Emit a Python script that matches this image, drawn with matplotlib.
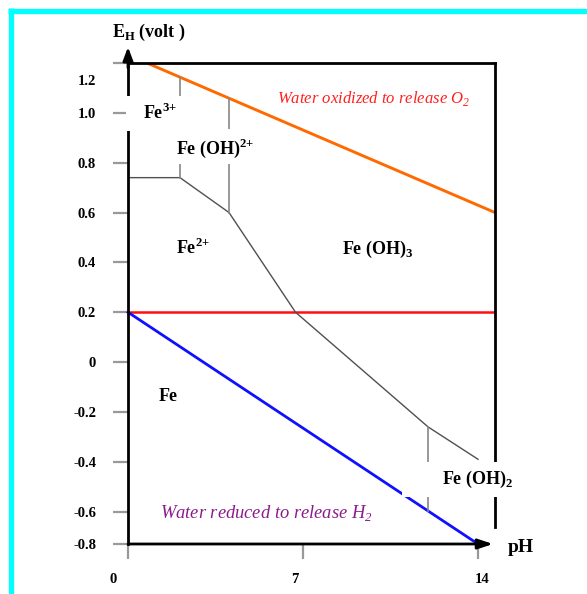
import numpy as np
import matplotlib
matplotlib.use("Agg")
import matplotlib.pyplot as plt
from matplotlib.lines import Line2D
from matplotlib.patches import Rectangle
from matplotlib.transforms import ScaledTranslation

# Eh-pH sketch for iron
ph_ticks = [0, 7, 14]
ph_tick_labels = ["0", "7", "14"]
e_tick_labels = ["1.2", "1.0", "0.8", "0.6", "0.4", "0.2", "0", "-0.2", "-0.4", "-0.6", "-0.8"]
# the sketch squeezes the bottom of the axis: "-0.8" sits at the axis end
e_ticks = [1.2, 1.0, 0.8, 0.6, 0.4, 0.2, 0.0, -0.2, -0.4, -0.6, -0.73]

# water lines
o2_ph = [0.76, 14.68]
o2_e = [1.2, 0.6]
h2_ph = [0, 14]
h2_e = [0.2, -0.73]
red_ph = [0, 14.68]
red_e = [0.2, 0.2]

# species boundary (grey)
bound_ph = [0, 2.08, 4.04, 6.7, 12.0, 14.0]
bound_e = [0.74, 0.74, 0.6, 0.2, -0.26, -0.39]
vert_ph = [2.08, 4.04, 12.0]

SERIF = ["Liberation Serif", "DejaVu Serif"]
plt.rcParams["font.family"] = SERIF

fig = plt.figure(figsize=(5.87, 5.94), dpi=100)
W, H = 587, 594
ax = fig.add_axes([128 / W, 1 - 544 / H, (495 - 128) / W, (544 - 63) / H])
ax.set_xlim(0, 14.68)
ax.set_ylim(-0.728, 1.196)

# cyan frame
fig.add_artist(Line2D([10.5 / W, 10.5 / W], [1 - 8 / H, 0], transform=fig.transFigure,
                      color="#00FFFF", lw=3.8, solid_capstyle="butt"))
fig.add_artist(Line2D([8 / W, 1], [1 - 10.5 / H, 1 - 10.5 / H], transform=fig.transFigure,
                      color="#00FFFF", lw=3.8, solid_capstyle="butt"))

# lines
ax.plot(o2_ph, o2_e, color="#FF6A00", lw=2.1, solid_capstyle="butt")
ax.plot(red_ph, red_e, color="#FF1010", lw=1.8)
ax.plot(h2_ph, h2_e, color="#1010FF", lw=2.0, clip_on=False)
ax.plot(bound_ph, bound_e, color="#505050", lw=1.0)
for i, p in enumerate(vert_ph):
    if i < 2:
        top = np.interp(p, o2_ph, o2_e)
        bot = np.interp(p, bound_ph, bound_e)
    else:
        top = np.interp(p, bound_ph, bound_e)
        bot = np.interp(p, h2_ph, h2_e)
    ax.plot([p, p], [bot, top], color="#888888", lw=1.2)

# spines
for s in ["right", "bottom"]:
    ax.spines[s].set_visible(False)
for s in ["left", "top"]:
    ax.spines[s].set_linewidth(2.0)
ax.plot([1, 1], [1, 17 / 481], transform=ax.transAxes, color="k", lw=2.0, clip_on=False)
ax.annotate("", xy=(1.0 - 2 / 367, 0), xytext=(0, 0), xycoords="axes fraction",
            arrowprops=dict(arrowstyle="-|>,head_length=0.9,head_width=0.3", color="k", lw=2.0,
                            shrinkA=0, shrinkB=0), zorder=2.6)
ax.annotate("", xy=(0, 1 + 16 / 481), xytext=(0, 0.99), xycoords="axes fraction",
            arrowprops=dict(arrowstyle="-|>,head_length=0.8,head_width=0.3", color="k", lw=2.0,
                            shrinkA=0, shrinkB=0), zorder=2.6)

# white label boxes of the sketch, they cut the lines behind them
for x0, x1, y0, y1 in [(-0.08, 2.28, 0.928, 1.068),
                       (1.68, 5.36, 0.796, 0.936),
                       (10.96, 15.48, -0.54, -0.40)]:
    ax.add_patch(Rectangle((x0, y0), x1 - x0, y1 - y0, fc="white", ec="none",
                           zorder=3.5, clip_on=False))

# ticks
ax.set_xticks(ph_ticks)
ax.set_xticklabels(ph_tick_labels)
ax.set_yticks(e_ticks)
ax.set_yticklabels(e_tick_labels)
ax.tick_params(axis="both", direction="out", length=11, width=1.6, color="#999999",
               labelsize=10.5)
ax.tick_params(axis="y", pad=12)
ax.tick_params(axis="x", pad=10)
for lab in ax.get_xticklabels() + ax.get_yticklabels():
    lab.set_fontweight("bold")

# move a few labels to where the sketch puts them
x_off = [-15, -8, 4]
for lab, dx in zip(ax.get_xticklabels(), x_off):
    lab.set_transform(lab.get_transform() + ScaledTranslation(dx / 100, 0, fig.dpi_scale_trans))
lab = ax.get_yticklabels()[0]
lab.set_transform(lab.get_transform() + ScaledTranslation(0, -17 / 100, fig.dpi_scale_trans))

# species labels
lbl = dict(fontsize=13, fontweight="bold", va="center", ha="left", zorder=4)
ax.text(0.6, 1.0, r"Fe$^{\mathregular{3{+}}}$", **lbl)
ax.text(1.92, 0.856, r"Fe (OH)$^{\mathregular{2{+}}}$", **lbl)
ax.text(1.92, 0.456, r"Fe$^{\mathregular{2{+}}}$", **lbl)
ax.text(8.56, 0.452, r"Fe (OH)$_{\mathregular{3}}$", **lbl)
ax.text(1.24, -0.14, "Fe", **lbl)
ax.text(12.56, -0.472, r"Fe (OH)$_{\mathregular{2}}$", **lbl)

ax.text(5.96, 1.056, r"Water oxidized to release O$_{\mathregular{2}}$", color="#FF2020",
        fontsize=12, fontstyle="italic", va="center", ha="left")
ax.text(1.28, -0.604, r"Water reduced to release H$_{\mathregular{2}}$", color="#8B1A8B",
        fontsize=13.3, fontstyle="italic", va="center", ha="left")

fig.text(112 / W, 1 - 32 / H, r"E$_{\mathregular{H}}$ (volt )", fontsize=13, fontweight="bold",
         va="center", ha="left")
fig.text(508 / W, 1 - 547 / H, "pH", fontsize=14, fontweight="bold", va="center", ha="left")

fig.savefig("out.png", dpi=100)
